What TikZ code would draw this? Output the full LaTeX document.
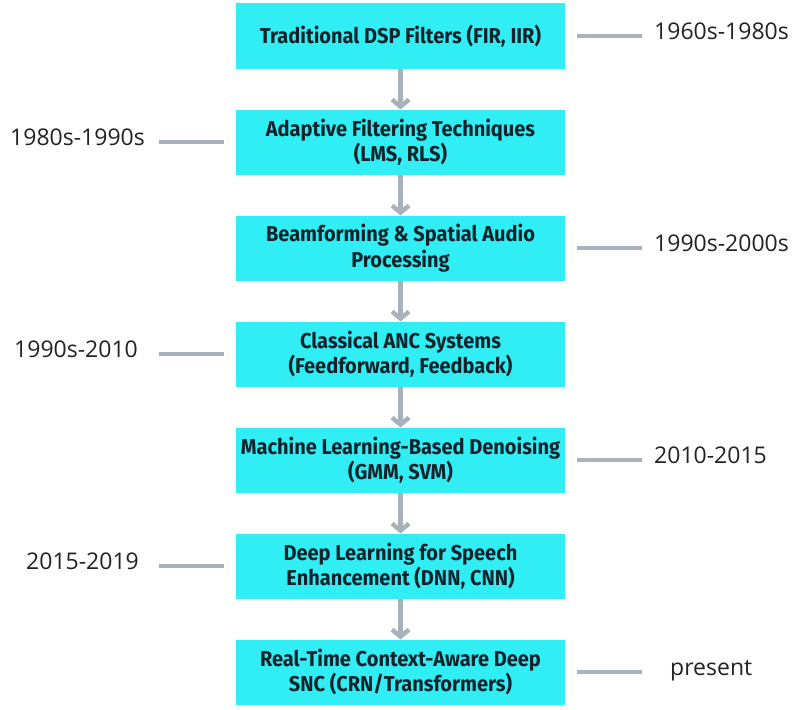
\documentclass[tikz,border=0pt]{standalone}
\usepackage{fontspec}
\setmainfont{Open Sans}
\newfontfamily\stagefont[FakeStretch=0.93]{Fira Sans}
\usetikzlibrary{positioning,arrows.meta}
\definecolor{stagecyan}{HTML}{30EEF3}
\definecolor{linkgray}{HTML}{A9B1BB}
\definecolor{stageink}{HTML}{10222B}
\definecolor{eraink}{HTML}{222222}

\begin{document}
\begin{tikzpicture}[x=1pt,y=-1pt,
  stage/.style={fill=stagecyan,minimum width=329pt,minimum height=65pt,inner sep=0pt,outer sep=0pt,
    align=center,text=stageink,font=\stagefont\bfseries\fontsize{21.5}{25.5}\selectfont},
  era/.style={inner sep=0pt,text=eraink,text height=.72em,text depth=0pt,font=\fontsize{23}{28}\selectfont},
  link/.style={draw=linkgray,line width=4.5pt},
  flow/.style={link,-{Straight Barb[length=7pt,width=17pt]}}]
\useasboundingbox (0,0) rectangle (799,709);
\node[stage] (s1) at (400.5,36) {Traditional DSP Filters (FIR, IIR)};
\node[stage,below=41pt of s1] (s2) {Adaptive Filtering Techniques\\(LMS, RLS)};
\node[stage,below=41pt of s2] (s3) {Beamforming \& Spatial Audio\\Processing};
\node[stage,below=41pt of s3] (s4) {Classical ANC Systems\\(Feedforward, Feedback)};
\node[stage,below=41pt of s4] (s5) {Machine Learning-Based Denoising\\(GMM, SVM)};
\node[stage,below=41pt of s5] (s6) {Deep Learning for Speech\\Enhancement (DNN, CNN)};
\node[stage,below=41pt of s6] (s7) {Real-Time Context-Aware Deep\\SNC (CRN/Transformers)};
\foreach \a/\b in {1/2,2/3,3/4,4/5,5/6,6/7}
  \draw[flow] (s\a) -- (s\b);
% periods on the right
\foreach \a/\gap/\cut/\txt in {1/89/12/1960s-1980s,3/89/12/1990s-2000s,5/89/12/2010-2015,7/105/28/present}
{\node[era,right=\gap pt of s\a] (e\a) {\txt};
 \draw[link,shorten <=12pt,shorten >=\cut pt] (s\a) -- (e\a);}
% periods on the left
\foreach \a/\gap/\cut/\txt in {2/91/14/1980s-1990s,4/98/21/1990s-2010,6/97/20/2015-2019}
{\node[era,left=\gap pt of s\a] (e\a) {\txt};
 \draw[link,shorten <=12pt,shorten >=\cut pt] (s\a) -- (e\a);}
\end{tikzpicture}
\end{document}
